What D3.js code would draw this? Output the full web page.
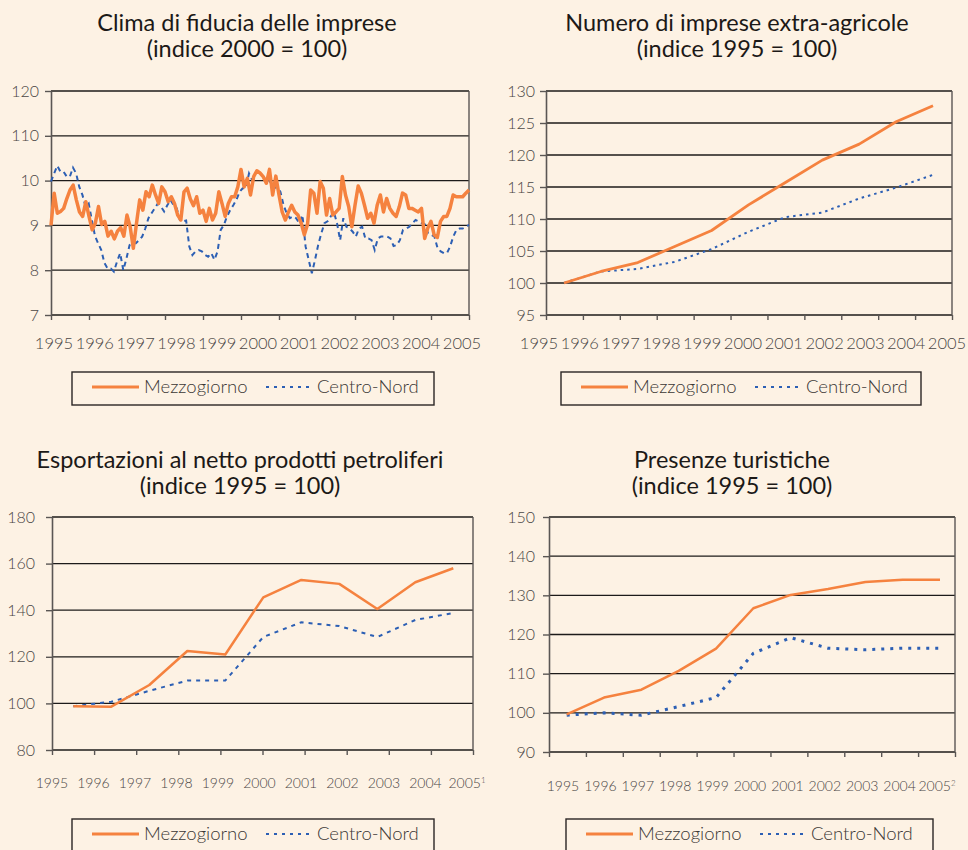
<!DOCTYPE html>
<html lang="it">
<head>
<meta charset="UTF-8">
<title>Mezzogiorno e Centro-Nord</title>
<script src="https://cdn.jsdelivr.net/npm/d3@7"></script>
<style>
  body { margin: 0; background: #fdf2e4; }
  svg { display: block; font-family: Lato, "DejaVu Sans", sans-serif; }
</style>
</head>
<body>
<script>
// anni sulle ascisse
const years = ["1995","1996","1997","1998","1999","2000","2001","2002","2003","2004","2005"];

// clima di fiducia (mensile)
const climaMezzogiorno = [
  90, 97.2, 92.7, 93.1, 93.8, 96, 97.9, 99, 95.7, 93,
  92, 95.3, 92, 89, 90.5, 94.2, 90.2, 90.9, 87.6, 88.7,
  87, 88.7, 89.5, 87.6, 92.3, 89.7, 84.9, 90.5, 95.7, 93.4,
  97.5, 96.4, 99, 96.8, 94.9, 98.6, 97.5, 95.3, 96.4, 94.9,
  92.3, 91.2, 97.5, 98.3, 95.9, 94.4, 96.4, 92.7, 93.4, 90.9,
  93.8, 91.2, 92.7, 97.5, 94.9, 92, 94.9, 96.4, 96.4, 98.6,
  102.5, 98.6, 100.5, 96.8, 100.9, 102.2, 101.7, 100.9, 99.4, 102.5,
  96.8, 101, 96.8, 93, 91.2, 93, 94.5, 93, 92.3, 90.5,
  87.9, 90.2, 97.9, 97.2, 92.7, 99.8, 98.3, 92.3, 96, 92.3,
  93, 93.8, 100.9, 96.8, 94.2, 89.7, 94.5, 98.8, 97.2, 94.5,
  91.6, 92.7, 90.5, 94.5, 96.8, 93, 96, 93.8, 92.7, 92,
  94.2, 97.2, 96.8, 93.8, 93.8, 93.4, 93, 93.8, 87.1, 89.4,
  90.9, 87.9, 87.3, 90.9, 92, 92, 93.8, 96.8, 96.4, 96.4,
  96.4, 97.2, 97.9
];
const climaCentroNord = [
  99.8, 101.6, 103.3, 102, 102, 100.9, 100.9, 102.9, 101.6, 98.6,
  96.8, 94.2, 94.9, 91.2, 87.6, 86, 84.5, 81.6, 80.4, 80.4,
  79.7, 81.9, 83.8, 80, 82.6, 85.6, 86, 86, 86.7, 87.5,
  89.3, 91.6, 92.7, 93.8, 94.9, 94.2, 93.1, 94.5, 95.7, 94.5,
  93.8, 91.2, 90.9, 91.1, 85.3, 83.4, 84.2, 84.5, 84.2, 83.4,
  83, 83.8, 82.3, 84.2, 89, 90.1, 92, 93.4, 94.5, 95.7,
  97.5, 98.3, 98.3, 101.6, 100.1, 101.6, 102, 101.2, 100.5, 100.5,
  99.4, 98.3, 98.6, 97.5, 94.5, 92.7, 91.6, 92, 91.6, 90.5,
  92.3, 85.3, 82.3, 79.3, 82.3, 85.6, 88.2, 90.5, 90.9, 92,
  93, 90.5, 86.7, 91.6, 89.7, 89.3, 88.6, 87.5, 89.3, 89.7,
  87.1, 87.1, 86.7, 84.5, 87.1, 87.5, 87.5, 87.5, 87.1, 85.4,
  85.6, 86.7, 89, 89.3, 89.7, 90.5, 91.2, 90.9, 90.5, 90.2,
  88.2, 87.9, 87.5, 84.9, 84.2, 83.8, 83.8, 85.3, 87.5, 89,
  89.3, 89.3, 89.7, 90.1
];
const climaTicks = [70, 80, 90, 100, 110, 120];
const climaTickLabels = ["7", "8", "9", "10", "110", "120"];

// numero di imprese extra-agricole (annuale)
const impreseMezzogiorno = [100, 101.8, 103.2, 105.7, 108.2, 112.2, 115.7, 119.2, 121.7, 125.2, 127.7];
const impreseCentroNord = [100, 101.8, 102.2, 103.3, 105.3, 108, 110.3, 111, 113.2, 114.9, 116.9];
const impreseTicks = [95, 100, 105, 110, 115, 120, 125, 130];

// esportazioni al netto dei prodotti petroliferi
const exportMezzogiorno = [98.8, 98.6, 107.9, 122.5, 121, 145.5, 153, 151.3, 140.5, 152, 158];
const exportCentroNord = [98.8, 100.7, 105.4, 109.8, 109.8, 128.5, 134.8, 133.2, 128.5, 135.8, 138.8];
const exportTicks = [80, 100, 120, 140, 160, 180];

// presenze turistiche
const turismoMezzogiorno = [99.6, 103.9, 105.9, 110.7, 116.4, 126.7, 130.1, 131.6, 133.4, 134, 134];
const turismoCentroNord = [99.4, 100, 99.4, 101.6, 103.9, 115.2, 119.2, 116.5, 116.1, 116.5, 116.5];
const turismoTicks = [90, 100, 110, 120, 130, 140, 150];

const orange = "#f5823f";
const blue = "#2c5fb4";
const ink = "#3b3735";

const panels = [
  { title: ["Clima di fiducia delle imprese", "(indice 2000 = 100)"], titleX: 247, titleY: [31, 57],
    mez: climaMezzogiorno, cn: climaCentroNord, ticks: climaTicks, tickLabels: climaTickLabels,
    left: 51, right: 469, top: 91, bottom: 315, dataX: [51, 469], nCat: 11, labelX: [54, 462],
    labelY: 349, labelSize: 16.5, yPad: 6, ySize: 16, mezW: 3.5, cnW: 2, cnDash: "5,4",
    legend: { x: 72, y: 372, w: 362, h: 33 }, note: "" },
  { title: ["Numero di imprese extra-agricole", "(indice 1995 = 100)"], titleX: 737, titleY: [31, 57],
    mez: impreseMezzogiorno, cn: impreseCentroNord, ticks: impreseTicks, tickLabels: impreseTicks.map(String),
    left: 546, right: 952, top: 91, bottom: 315, dataX: [564, 933], nCat: 11, labelX: [539, 947],
    labelY: 349, labelSize: 16.5, yPad: 5, ySize: 16, mezW: 2.8, cnW: 2, cnDash: "2.5,4",
    legend: { x: 561, y: 372, w: 360, h: 33 }, note: "" },
  { title: ["Esportazioni al netto prodotti petroliferi", "(indice 1995 = 100)"], titleX: 240, titleY: [468, 494],
    mez: exportMezzogiorno, cn: exportCentroNord, ticks: exportTicks, tickLabels: exportTicks.map(String),
    left: 52, right: 473, top: 517, bottom: 750, dataX: [73.3, 453.3], nCat: 10, labelX: [52, 467],
    labelY: 788, labelSize: 14, yPad: 11, ySize: 16, mezW: 2.5, cnW: 2, cnDash: "4,5",
    legend: { x: 72, y: 819, w: 362, h: 40 }, note: "1" },
  { title: ["Presenze turistiche", "(indice 1995 = 100)"], titleX: 732, titleY: [468, 494],
    mez: turismoMezzogiorno, cn: turismoCentroNord, ticks: turismoTicks, tickLabels: turismoTicks.map(String),
    left: 549, right: 955, top: 517, bottom: 752, dataX: [566.7, 940], nCat: 11, labelX: [563, 937],
    labelY: 791, labelSize: 14, yPad: 8, ySize: 16, mezW: 2.5, cnW: 3, cnDash: "3,6",
    legend: { x: 566, y: 819, w: 367, h: 40 }, note: "2" }
];

const svg = d3.select("body").append("svg")
  .attr("width", 968)
  .attr("height", 850);

svg.append("rect").attr("width", 968).attr("height", 850).attr("fill", "#fdf2e4");

panels.forEach(p => {
  const g = svg.append("g");

  // titolo
  p.title.forEach((t, i) => {
    g.append("text")
      .attr("x", p.titleX)
      .attr("y", p.titleY[i])
      .attr("text-anchor", "middle")
      .attr("font-size", 23.5)
      .attr("fill", "#1c1917")
      .text(t);
  });

  const y = d3.scaleLinear()
    .domain(d3.extent(p.ticks))
    .range([p.bottom, p.top]);

  // griglia
  g.selectAll(".grid")
    .data(p.ticks)
    .enter()
    .append("line")
    .attr("x1", p.left)
    .attr("x2", p.right)
    .attr("y1", d => y(d))
    .attr("y2", d => y(d))
    .attr("stroke", "#1d1b1a")
    .attr("stroke-width", 1.3);

  // bordo destro
  g.append("line")
    .attr("x1", p.right).attr("x2", p.right)
    .attr("y1", p.top).attr("y2", p.bottom)
    .attr("stroke", "#5a5654").attr("stroke-width", 1.4);

  // asse y
  const yAxis = d3.axisLeft(y)
    .tickValues(p.ticks)
    .tickFormat((d, i) => p.tickLabels[i])
    .tickSizeInner(6)
    .tickSizeOuter(0)
    .tickPadding(p.yPad);

  const ya = g.append("g")
    .attr("transform", `translate(${p.left},0)`)
    .call(yAxis);
  ya.select(".domain").attr("stroke", "#5a5654").attr("stroke-width", 1.6);
  ya.selectAll(".tick line").attr("stroke", "#5a5654").attr("stroke-width", 1.4);
  ya.selectAll(".tick text")
    .attr("font-size", p.ySize)
    .attr("font-family", "Lato, sans-serif")
    .attr("font-weight", 300)
    .attr("fill", "#4a4644");

  // asse x: tacche di separazione tra categorie
  const xTick = d3.scaleLinear().domain([0, p.nCat]).range([p.left, p.right]);
  const xAxis = d3.axisBottom(xTick)
    .tickValues(d3.range(p.nCat + 1))
    .tickFormat("")
    .tickSizeInner(5)
    .tickSizeOuter(0);
  const xa = g.append("g")
    .attr("transform", `translate(0,${p.bottom})`)
    .call(xAxis);
  xa.select(".domain").remove();
  xa.selectAll(".tick line").attr("stroke", "#5a5654").attr("stroke-width", 1.4);

  // etichette anni
  const xLabel = d3.scalePoint().domain(years).range(p.labelX);
  const lab = g.selectAll(".yr")
    .data(years)
    .enter()
    .append("text")
    .attr("x", d => xLabel(d))
    .attr("y", p.labelY)
    .attr("text-anchor", "middle")
    .attr("font-size", p.labelSize)
    .attr("font-weight", 300)
    .attr("fill", "#4a4644")
    .text(d => d);
  if (p.note) {
    lab.filter(d => d === "2005")
      .append("tspan")
      .attr("dy", -5)
      .attr("font-size", 8)
      .text(p.note);
  }

  // serie
  const xm = d3.scaleLinear().domain([0, p.mez.length - 1]).range(p.dataX);
  const xc = d3.scaleLinear().domain([0, p.cn.length - 1]).range(p.dataX);

  g.append("path")
    .datum(p.cn)
    .attr("fill", "none")
    .attr("stroke", blue)
    .attr("stroke-width", p.cnW)
    .attr("stroke-dasharray", p.cnDash)
    .attr("d", d3.line().x((d, i) => xc(i)).y(d => y(d)));

  g.append("path")
    .datum(p.mez)
    .attr("fill", "none")
    .attr("stroke", orange)
    .attr("stroke-width", p.mezW)
    .attr("stroke-linejoin", "round")
    .attr("d", d3.line().x((d, i) => xm(i)).y(d => y(d)));

  // legenda
  const L = p.legend;
  const lg = g.append("g").attr("transform", `translate(${L.x},${L.y})`);
  lg.append("rect")
    .attr("width", L.w).attr("height", L.h)
    .attr("fill", "none")
    .attr("stroke", "#2a2624")
    .attr("stroke-width", 1.4);
  lg.append("line")
    .attr("x1", 20).attr("x2", 67).attr("y1", 15).attr("y2", 15)
    .attr("stroke", orange).attr("stroke-width", 3);
  lg.append("text")
    .attr("x", 72).attr("y", 21)
    .attr("font-size", 18.5).attr("font-weight", 300).attr("fill", ink)
    .text("Mezzogiorno");
  lg.append("line")
    .attr("x1", 194).attr("x2", 240).attr("y1", 15).attr("y2", 15)
    .attr("stroke", blue).attr("stroke-width", 2)
    .attr("stroke-dasharray", "3,5");
  lg.append("text")
    .attr("x", 245).attr("y", 21)
    .attr("font-size", 18.5).attr("font-weight", 300).attr("fill", ink)
    .text("Centro-Nord");
});
</script>
</body>
</html>
